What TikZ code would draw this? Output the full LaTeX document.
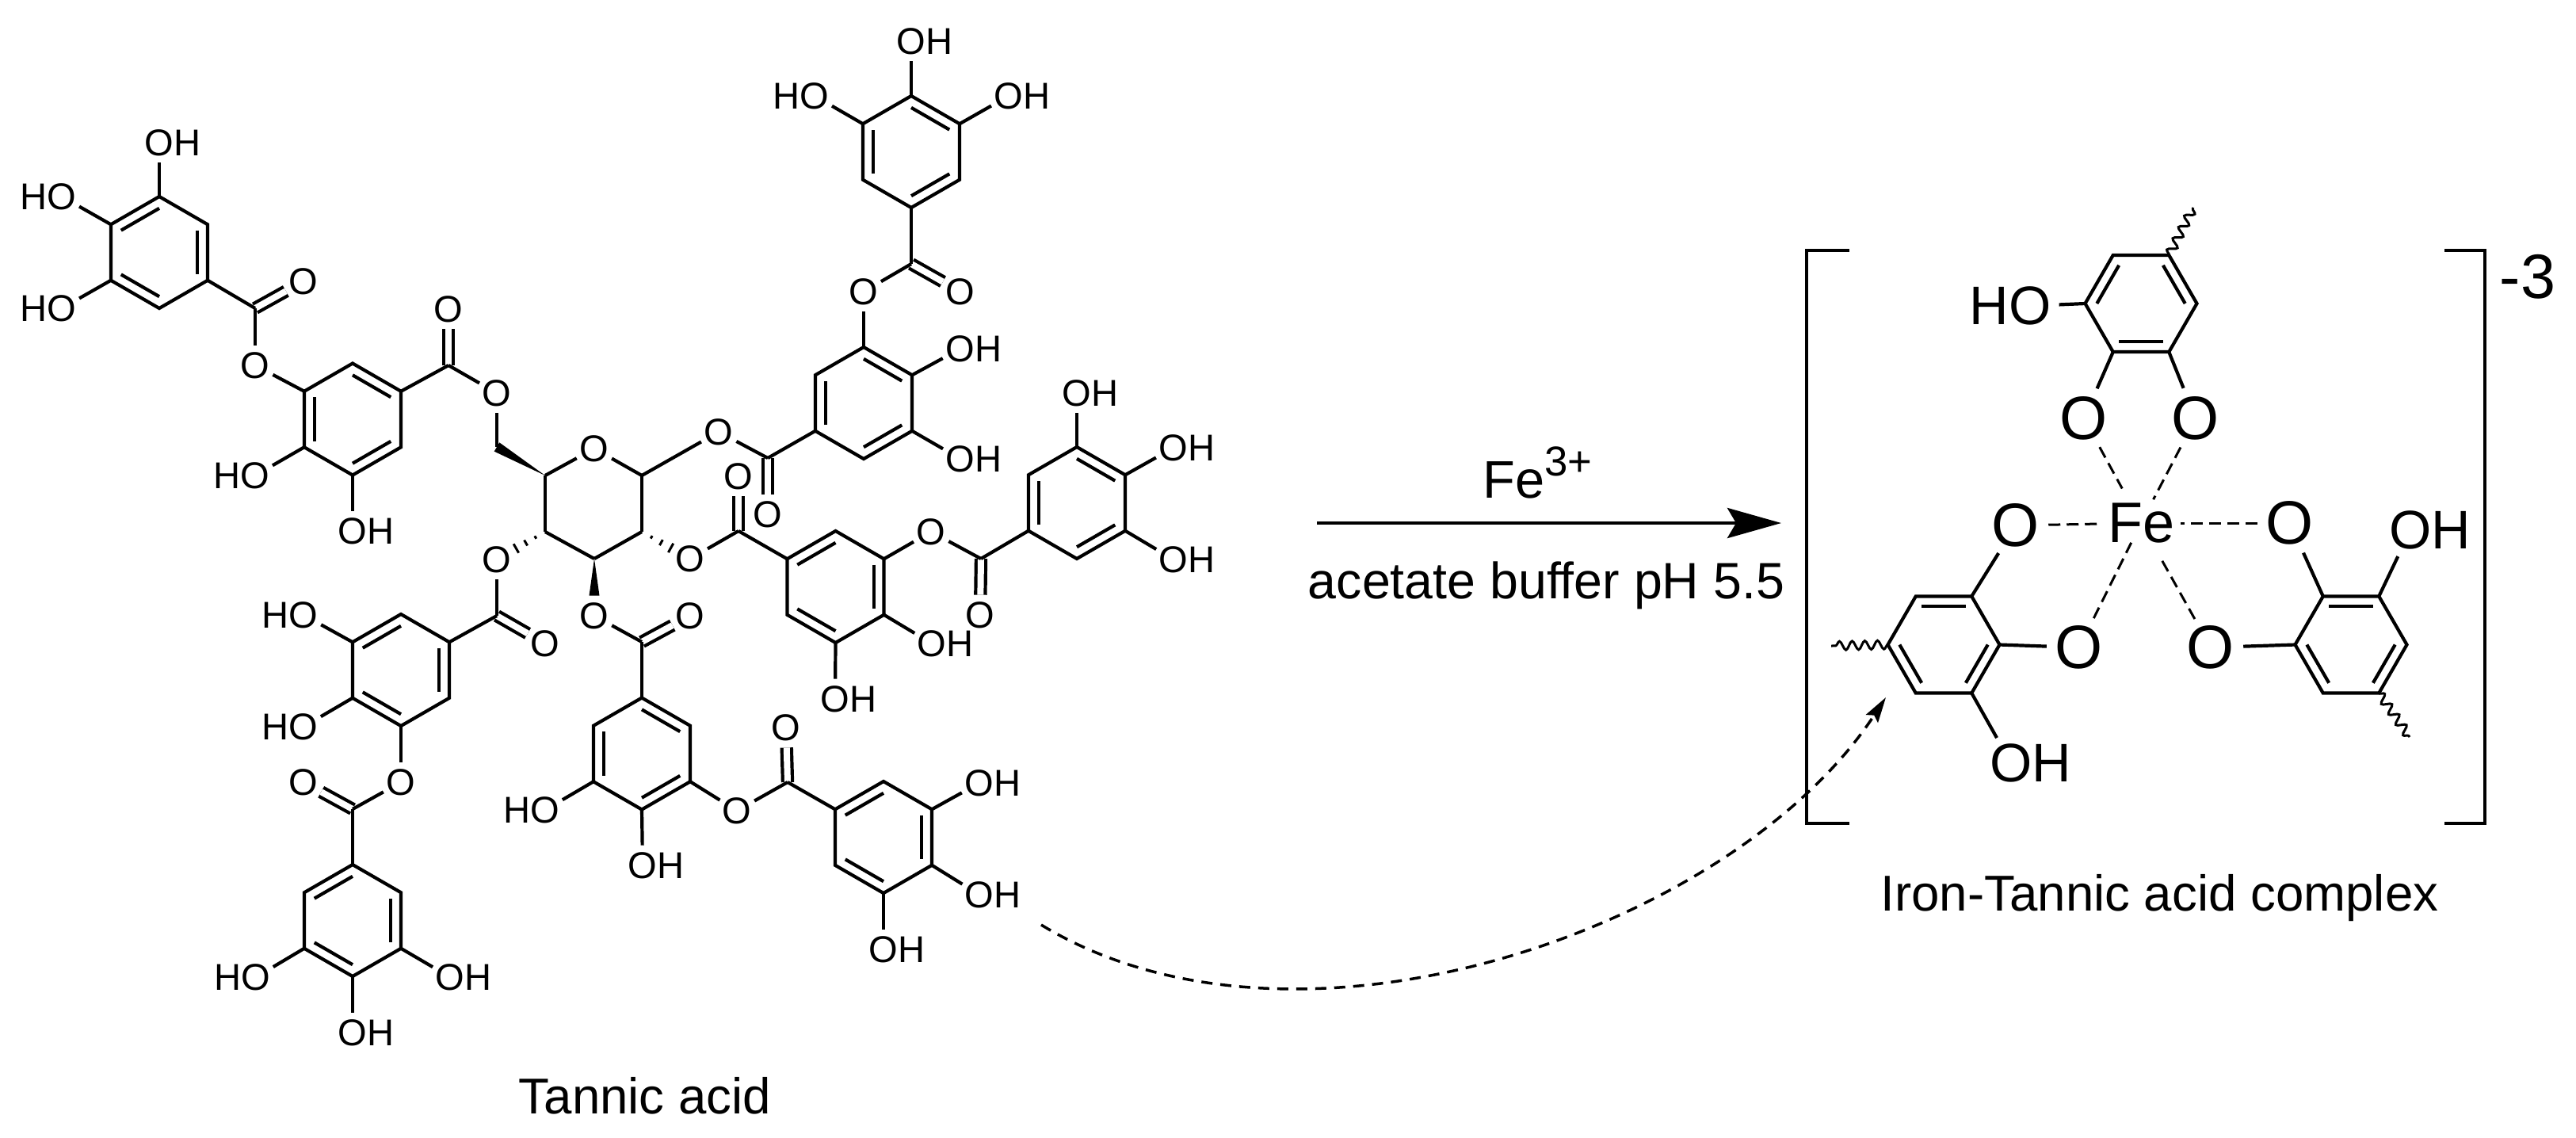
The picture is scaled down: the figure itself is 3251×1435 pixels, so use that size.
\documentclass[tikz,border=0pt]{standalone}
\usepackage{fontspec}
\setmainfont{Liberation Sans}
\usetikzlibrary{calc,arrows.meta,decorations.pathmorphing}

\tikzset{
  bond/.style={line width=0.42mm},
  dbond/.style={line width=0.42mm, double=white, double distance=0.8mm},
  hash/.style={line width=0.3mm},
  metal/.style={line width=0.3mm, dash pattern=on 1.5mm off 0.8mm},
  squig/.style={line width=0.3mm, decorate, decoration={snake, segment length=1.6mm, amplitude=0.55mm}},
  atom/.style={circle, inner sep=0pt, font=\fontsize{13.4}{16}\selectfont},
  ligo/.style={circle, inner sep=0pt, font=\fontsize{22}{26}\selectfont},
  ligoh/.style={circle, inner sep=0pt, font=\fontsize{19.5}{24}\selectfont},
  iron/.style={circle, inner sep=0pt, font=\fontsize{20.5}{24}\selectfont},
  caption/.style={inner sep=0pt, anchor=base, font=\fontsize{18.1}{22}\selectfont},
}

% ring: name, centre, start angle, which bonds carry the inner line
\newcommand{\benzring}[4]{%
  \coordinate (#1) at (#2);
  \foreach \i in {1,...,6}
    \coordinate (#1\i) at ($(#1)+({#3+60*\i}:70.5)$);
  \draw[bond] (#11) -- (#12) -- (#13) -- (#14) -- (#15) -- (#16) -- cycle;
  \foreach \i in {1,3,5} {
    \pgfmathtruncatemacro{\ia}{mod(\i+#4-1,6)+1}
    \pgfmathtruncatemacro{\ib}{mod(\i+#4,6)+1}
    \draw[bond] ($(#1)!0.79!(#1\ia)$) -- ($(#1)!0.79!(#1\ib)$);
  }
}
\newcommand{\hashbond}[2]{%
  \foreach \hpos/\hw in {.2/.2,.4/.4,.6/.65}
    \draw[hash] ($(#1)!\hpos!(#2)!\hw mm!90:(#2)$) -- ($(#1)!\hpos!(#2)!\hw mm!-90:(#2)$);
}
\newcommand{\wedgebond}[2]{%
  \fill (#1) -- ($(#2)!0.65mm!90:(#1)$) -- ($(#2)!0.65mm!-90:(#1)$) -- cycle;
}

\begin{document}
\begin{tikzpicture}[x=0.1mm, y=-0.1mm]
  \useasboundingbox (0,0) rectangle (3251,1435);

  % tannic acid, rings
  \benzring{ra}{201,318.5}{30}{0}
  \benzring{rb}{445,529}{30}{1}
  \benzring{rd}{1090,508.5}{30}{1}
  \benzring{re}{1150,191.5}{30}{1}
  \benzring{rf}{1359,634.5}{30}{1}
  \benzring{rg}{1054.5,740.5}{30}{0}
  \benzring{rh}{506,845.5}{30}{0}
  \benzring{ri}{445,1161.5}{30}{0}
  \benzring{rj}{810,951}{30}{1}
  \benzring{rk}{1115,1056.5}{30}{0}

  % sugar
  \coordinate (s1) at (810,600);
  \coordinate (s2) at (810,671);
  \coordinate (s3) at (750,705);
  \coordinate (s4) at (688,671);
  \coordinate (s5) at (688,600);
  \coordinate (ch2) at (627,564);
  \node[atom] (osr) at (750,566) {O};
  \node[atom] (os1) at (907,545) {O};
  \node[atom] (os2) at (871,705) {O};
  \node[atom] (os3) at (750,777) {O};
  \node[atom] (os4) at (627,706) {O};
  \node[atom] (os6) at (627,496) {O};

  % carbonyl carbons
  \coordinate (ca) at (322,389);
  \coordinate (cb) at (566,461);
  \coordinate (cd) at (969,578);
  \coordinate (ce) at (1150,333);
  \coordinate (cf) at (1238,705);
  \coordinate (cg) at (932,670);
  \coordinate (ch) at (627,777);
  \coordinate (ci) at (445,1021);
  \coordinate (cj) at (810,810);
  \coordinate (ck) at (994,987);

  % oxygens
  \node[atom] (oa1) at (201,180) {O\rlap{H}};
  \node[atom] (oa2) at (78,248) {\llap{H}O};
  \node[atom] (oa3) at (78,389) {\llap{H}O};
  \node[atom] (oa4) at (383,355) {O};
  \node[atom] (oa5) at (322,461) {O};
  \node[atom] (ob1) at (322,600) {\llap{H}O};
  \node[atom] (ob2) at (445,670) {O\rlap{H}};
  \node[atom] (ob3) at (566,390) {O};
  \node[atom] (od1) at (969,649) {O};
  \node[atom] (od2) at (1212,440) {O\rlap{H}};
  \node[atom] (od3) at (1212,579) {O\rlap{H}};
  \node[atom] (od4) at (1090,368) {O};
  \node[atom] (oe2) at (1212,368) {O};
  \node[atom] (oe3) at (1150,52) {O\rlap{H}};
  \node[atom] (oe4) at (1028,121) {\llap{H}O};
  \node[atom] (oe5) at (1273,121) {O\rlap{H}};
  \node[atom] (of1) at (1237,776) {O};
  \node[atom] (of2) at (1359,496) {O\rlap{H}};
  \node[atom] (of3) at (1481,565) {O\rlap{H}};
  \node[atom] (of4) at (1481,706) {O\rlap{H}};
  \node[atom] (og1) at (932,601) {O};
  \node[atom] (og2) at (1175,671) {O};
  \node[atom] (og3) at (1176,812) {O\rlap{H}};
  \node[atom] (og4) at (1054,882) {O\rlap{H}};
  \node[atom] (oh1) at (688,812) {O};
  \node[atom] (oh2) at (383,776) {\llap{H}O};
  \node[atom] (oh3) at (383,917) {\llap{H}O};
  \node[atom] (oh4) at (506,987) {O};
  \node[atom] (oi1) at (383,987) {O};
  \node[atom] (oi2) at (323,1233) {\llap{H}O};
  \node[atom] (oi3) at (568,1233) {O\rlap{H}};
  \node[atom] (oi4) at (445,1303) {O\rlap{H}};
  \node[atom] (oj1) at (871,777) {O};
  \node[atom] (oj2) at (688,1022) {\llap{H}O};
  \node[atom] (oj3) at (811,1092) {O\rlap{H}};
  \node[atom] (oj4) at (930,1023) {O};
  \node[atom] (ok1) at (992,918) {O};
  \node[atom] (ok2) at (1236,988) {O\rlap{H}};
  \node[atom] (ok3) at (1236,1129) {O\rlap{H}};
  \node[atom] (ok4) at (1115,1198) {O\rlap{H}};

  % C=O
  \foreach \cc/\oo in {ca/oa4,cb/ob3,cd/od1,ce/oe2,cf/of1,cg/og1,ch/oh1,ci/oi1,cj/oj1,ck/ok1}
    \draw[dbond] (\cc) -- (\oo);

  % single bonds
  \foreach \aa/\bb in {ra4/oa1,ra3/oa2,ra2/oa3,ra6/ca,ca/oa5,oa5/rb3,rb2/ob1,rb1/ob2,rb5/cb,cb/os6,
      os6/ch2,osr/s1,s1/s2,s2/s3,s3/s4,s4/s5,s5/osr,s1/os1,os1/cd,cd/rd2,rd5/od2,rd6/od3,rd4/od4,
      od4/ce,ce/re1,re4/oe3,re3/oe4,re5/oe5,os2/cg,cg/rg3,rg5/og2,og2/cf,cf/rf2,rg6/og3,rg1/og4,
      rf4/of2,rf5/of3,rf6/of4,os3/cj,cj/rj4,rj2/oj2,rj1/oj3,rj6/oj4,oj4/ck,ck/rk3,rk5/ok2,rk6/ok3,
      rk1/ok4,os4/ch,ch/rh5,rh3/oh2,rh2/oh3,rh1/oh4,oh4/ci,ci/ri4,ri2/oi2,ri6/oi3,ri1/oi4}
    \draw[bond] (\aa) -- (\bb);

  % stereo bonds
  \wedgebond{s5}{ch2}
  \wedgebond{s3}{os3.north}
  \hashbond{s4}{os4}
  \hashbond{s2}{os2}

  \node[caption] (tannic) at (814,1405) {Tannic acid};

  % reaction arrow
  \coordinate (arrowa) at (1662,660);
  \coordinate (arrowb) at (2248,660);
  \draw[line width=0.47mm, -{Stealth[length=6.8mm, width=3.8mm, inset=1.1mm]}] (arrowa) -- (arrowb);
  \node[caption, anchor=base west, font=\fontsize{19}{22}\selectfont] (ferric) at (1871,628)
    {Fe\raisebox{2.8mm}{\fontsize{15}{17}\selectfont 3+}};
  \node[caption, font=\fontsize{18.35}{22}\selectfont] (buffer) at (1951.5,755) {acetate buffer pH 5.5};

  % complex
  \benzring{rx}{2702,383}{0}{0}
  \benzring{ry}{2453,813.5}{0}{1}
  \benzring{rz}{2967,813.5}{0}{1}
  \node[iron] (fe) at (2702,660) {Fe};
  \node[ligoh] (ox1) at (2562,386) {\llap{H}O};
  \node[ligo] (ox2) at (2630,528) {O};
  \node[ligo] (ox3) at (2771,528) {O};
  \node[ligo] (oy1) at (2544,663) {O};
  \node[ligo] (oy2) at (2624,817) {O};
  \node[ligoh] (oy3) at (2538,963) {O\rlap{H}};
  \node[ligo] (oz1) at (2890,660) {O};
  \node[ligo] (oz2) at (2790,817) {O};
  \node[ligoh] (oz3) at (3042,669) {O\rlap{H}};

  \foreach \aa/\bb in {rx3/ox1,rx2/ox2,rx1/ox3,ry5/oy1,ry6/oy2,ry1/oy3,rz4/oz1,rz3/oz2,rz5/oz3}
    \draw[bond] (\aa) -- (\bb);
  \foreach \oo/\ss in {ox2/0,ox3/-1.6,oy1/0,oy2/-2.2,oz1/0,oz2/0}
    \draw[metal, shorten >=\ss mm] (\oo) -- (fe);

  \coordinate (tailx) at (2768,262);
  \coordinate (taily) at (2311,815);
  \coordinate (tailz) at (3041,930);
  \draw[squig] (rx5) -- (tailx);
  \draw[squig] (ry3) -- (taily);
  \draw[squig] (rz1) -- (tailz);

  % brackets
  \draw[bond] (2334,316) -- (2280,316) -- (2280,1039) -- (2334,1039);
  \draw[bond] (3085,316) -- (3136,316) -- (3136,1039) -- (3085,1039);
  \node[caption, anchor=base west, font=\fontsize{22.5}{26}\selectfont] (charge) at (3154,376) {-3};
  \node[caption] (complex) at (2725.5,1149) {Iron-Tannic acid complex};

  % where the ligand comes from
  \coordinate (curvea) at (1314,1167);
  \coordinate (curveb) at (2380,880);
  \draw[line width=0.35mm, dash pattern=on 1.4mm off 1mm, -{Stealth[length=3.2mm, width=1.8mm, inset=0.5mm]}]
    (curvea) .. controls (1640,1365) and (2190,1170) .. (curveb);
\end{tikzpicture}
\end{document}
